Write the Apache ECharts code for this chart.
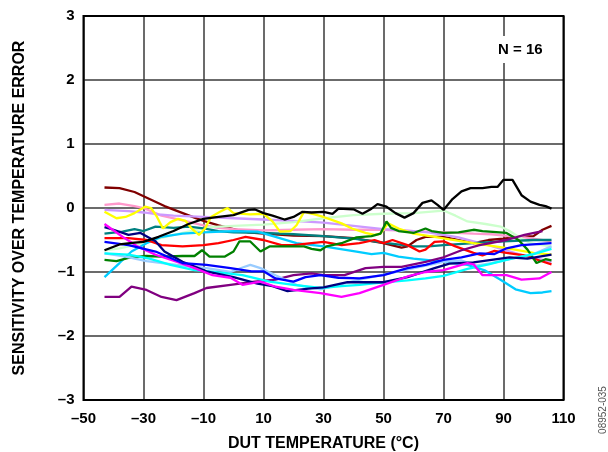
<!DOCTYPE html>
<html>
<head>
<meta charset="utf-8">
<script src="https://cdn.jsdelivr.net/npm/echarts@6/dist/echarts.min.js"></script>
<style>
html,body{margin:0;padding:0;background:#fff;}
#c{width:608px;height:452px;}
</style>
</head>
<body>
<div id="c"></div>
<script>
var xTickValues = [-50,-30,-10,10,30,50,70,90,110];
var yTickValues = [-3,-2,-1,0,1,2,3];
var xTitle = 'DUT TEMPERATURE (°C)';
var yTitle = 'SENSITIVITY OVER TEMPERATURE ERROR';
var noteText = 'N = 16';
var figId = '08952-035';

var maroon = [[-43,0.32],[-38,0.31],[-33,0.25],[-28,0.14],[-23,0.03],[-18,-0.06],[-13,-0.15],[-10,-0.2],[-5,-0.27],[0,-0.33],[5,-0.38],[10,-0.4],[20,-0.43],[30,-0.44],[40,-0.47],[50,-0.55],[56,-0.62],[58,-0.6],[61,-0.5],[64,-0.45],[70,-0.45],[75,-0.5],[80,-0.55],[85,-0.5],[90,-0.48],[95,-0.45],[100,-0.44],[103,-0.34],[106,-0.28]];
var pink = [[-43,0.05],[-38,0.07],[-33,0.03],[-30,0.0],[-24,-0.12],[-18,-0.18],[-10,-0.27],[-5,-0.31],[0,-0.33],[10,-0.35],[20,-0.34],[30,-0.33],[40,-0.34],[50,-0.34],[60,-0.36],[70,-0.38],[80,-0.4],[86,-0.41],[92,-0.44],[97,-0.46],[106,-0.52]];
var lavender = [[-43,-0.03],[-35,-0.05],[-30,-0.07],[-25,-0.1],[-20,-0.12],[-10,-0.14],[0,-0.16],[10,-0.18],[20,-0.2],[30,-0.23],[40,-0.28],[50,-0.33],[60,-0.36],[65,-0.38],[70,-0.42],[75,-0.46],[80,-0.52],[85,-0.58],[90,-0.65],[95,-0.72],[100,-0.78],[106,-0.84]];
var yellow = [[-43,-0.06],[-39,-0.16],[-36,-0.14],[-33,-0.08],[-29.5,0.02],[-27.5,0.0],[-25.5,-0.14],[-23.5,-0.32],[-21,-0.22],[-18.5,-0.17],[-16,-0.2],[-14,-0.32],[-11.5,-0.42],[-9.5,-0.32],[-7.5,-0.14],[-4.5,-0.06],[-2,0.0],[0,-0.08],[5.5,-0.1],[10,-0.09],[13,-0.21],[15.5,-0.37],[19,-0.36],[21,-0.27],[23.5,-0.06],[27,-0.1],[30,-0.14],[33,-0.19],[36,-0.24],[39.5,-0.32],[44,-0.39],[47,-0.42],[49,-0.4],[51.5,-0.24],[55,-0.32],[60,-0.4],[67,-0.45],[72,-0.49],[80,-0.55],[90,-0.62],[100,-0.7],[106,-0.73]];
var teal = [[-43,-0.4],[-37,-0.37],[-33,-0.33],[-30,-0.36],[-26,-0.29],[-20,-0.31],[-15,-0.29],[-10,-0.32],[-5,-0.36],[0,-0.38],[10,-0.39],[20,-0.41],[30,-0.44],[40,-0.48],[50,-0.54],[60,-0.6],[65,-0.6],[70,-0.58],[80,-0.55],[90,-0.52],[100,-0.5],[106,-0.5]];
var red = [[-43,-0.47],[-35,-0.47],[-29,-0.5],[-24,-0.58],[-17,-0.6],[-10,-0.58],[-5,-0.55],[0,-0.5],[4,-0.45],[10,-0.5],[16,-0.58],[20,-0.58],[26,-0.55],[30,-0.53],[36,-0.58],[42,-0.55],[47,-0.5],[50,-0.55],[53,-0.5],[58,-0.58],[62,-0.68],[64,-0.65],[67,-0.53],[70,-0.52],[74,-0.6],[80,-0.7],[83,-0.74],[87,-0.67],[91,-0.7],[97,-0.74],[102,-0.82],[106,-0.88]];
var green = [[-43,-0.81],[-39,-0.83],[-35,-0.78],[-29,-0.75],[-24,-0.76],[-17,-0.75],[-13,-0.75],[-10.5,-0.66],[-8,-0.76],[-3,-0.76],[0,-0.68],[2,-0.52],[5.5,-0.52],[9,-0.68],[12,-0.6],[19,-0.6],[23.5,-0.6],[26,-0.64],[29,-0.66],[31,-0.6],[36,-0.55],[41,-0.46],[46,-0.44],[49,-0.4],[51,-0.21],[52.5,-0.31],[55,-0.36],[60,-0.39],[64,-0.32],[66,-0.36],[70,-0.39],[75,-0.38],[80,-0.34],[83,-0.36],[91,-0.39],[95,-0.5],[98,-0.65],[101,-0.86],[104,-0.8],[106,-0.82]];
var lightgreen = [[-43,-0.66],[-38,-0.63],[-30,-0.55],[-25,-0.48],[-20,-0.42],[-13,-0.35],[-8,-0.3],[0,-0.28],[10,-0.26],[20,-0.22],[30,-0.16],[40,-0.11],[50,-0.09],[60,-0.08],[70,-0.04],[74,-0.12],[78,-0.21],[84,-0.25],[89,-0.29],[92,-0.36],[95,-0.45],[99,-0.55],[103,-0.58],[106,-0.6]];
var deepsky = [[-43,-1.08],[-38,-0.86],[-34,-0.68],[-29,-0.55],[-24,-0.45],[-17,-0.4],[-10,-0.38],[0,-0.36],[8,-0.37],[14,-0.45],[21,-0.55],[30,-0.6],[41,-0.68],[46,-0.72],[50,-0.7],[55,-0.76],[60,-0.79],[70,-0.84],[78,-0.89],[84,-0.98],[89,-1.12],[94,-1.27],[99,-1.33],[103,-1.32],[106,-1.3]];
var cyan = [[-43,-0.71],[-35,-0.73],[-28,-0.79],[-21,-0.89],[-13,-0.97],[-8,-0.99],[3,-1.05],[12,-1.15],[20,-1.2],[29,-1.25],[36,-1.22],[42,-1.2],[50,-1.16],[58,-1.13],[64,-1.1],[70,-1.06],[78,-0.95],[85,-0.88],[92,-0.8],[100,-0.72],[106,-0.64]];
var lightblue = [[-43,-0.71],[-36,-0.76],[-29,-0.83],[-19,-0.89],[-9,-0.94],[-1,-1.0],[3,-0.93],[5.6,-0.89],[9,-0.94],[14,-1.05],[21,-1.2],[29,-1.27],[35,-1.2],[42,-1.12],[50,-1.04],[57,-0.97],[64,-0.9],[70,-0.84],[76,-0.82],[81,-0.9],[86,-0.86],[92,-0.8],[100,-0.72],[106,-0.6]];
var navy = [[-43,-0.3],[-40,-0.34],[-35,-0.42],[-31,-0.39],[-26,-0.52],[-23,-0.68],[-17,-0.84],[-9,-0.99],[0,-1.08],[8,-1.18],[13,-1.22],[18,-1.3],[25,-1.26],[30,-1.24],[38,-1.16],[50,-1.16],[58,-1.08],[67,-0.94],[72,-0.87],[80,-0.85],[86,-0.81],[92,-0.77],[98,-0.79],[106,-0.73]];
var magenta = [[-43,-0.25],[-37,-0.45],[-32,-0.6],[-26,-0.73],[-19,-0.84],[-13,-0.94],[-7,-1.05],[-1,-1.09],[3,-1.2],[9,-1.15],[14,-1.23],[20,-1.28],[29,-1.33],[36,-1.39],[42,-1.33],[50,-1.2],[58,-1.07],[64,-1.0],[70,-0.97],[78,-0.86],[80,-0.88],[83,-1.05],[91,-1.05],[96,-1.12],[102,-1.1],[106,-1.0]];
var blue = [[-43,-0.53],[-35,-0.58],[-26,-0.68],[-17,-0.86],[-9,-0.89],[-1,-0.94],[6,-0.99],[10,-0.99],[14,-1.1],[20,-1.15],[24,-1.08],[29,-1.05],[35,-1.09],[42,-1.1],[50,-1.05],[58,-0.94],[64,-0.89],[70,-0.81],[76,-0.77],[82,-0.71],[87,-0.72],[91,-0.63],[96,-0.58],[106,-0.55]];
var purple = [[-43,-1.39],[-38,-1.39],[-34,-1.23],[-29,-1.28],[-24,-1.39],[-19,-1.44],[-13,-1.33],[-9,-1.25],[-1,-1.2],[7,-1.15],[14,-1.12],[20,-1.05],[26,-1.02],[30,-1.05],[37,-1.05],[44,-0.94],[50,-0.92],[56,-0.92],[64,-0.84],[70,-0.77],[76,-0.66],[82,-0.58],[91,-0.5],[97,-0.42],[103,-0.36]];
var black = [[-43,-0.66],[-38,-0.57],[-33,-0.54],[-30,-0.53],[-25,-0.45],[-20,-0.36],[-15,-0.25],[-10,-0.17],[-5,-0.14],[0,-0.11],[5,-0.03],[7,-0.02],[10,-0.08],[13,-0.12],[17,-0.18],[20,-0.14],[23,-0.06],[26,-0.07],[30,-0.06],[33,-0.09],[35,-0.01],[40,-0.02],[43,-0.09],[46,-0.01],[48,0.06],[51,0.02],[54,-0.08],[57,-0.15],[60,-0.08],[63,0.08],[66,0.12],[68,0.05],[70,-0.03],[73,0.14],[76,0.26],[79,0.31],[83,0.31],[86,0.33],[88,0.33],[90,0.44],[93,0.44],[96,0.2],[99,0.1],[102,0.05],[104,0.03],[106,-0.01]];

var seriesList = [
  ['maroon', maroon, '#800000'],
  ['pink', pink, '#ff99cc'],
  ['lavender', lavender, '#cc99ff'],
  ['lightgreen', lightgreen, '#ccffcc'],
  ['teal', teal, '#008080'],
  ['deepsky', deepsky, '#00ccff'],
  ['yellow', yellow, '#ffff00'],
  ['red', red, '#ff0000'],
  ['green', green, '#008000'],
  ['purple', purple, '#800080'],
  ['lightblue', lightblue, '#99ccff'],
  ['cyan', cyan, '#00ffff'],
  ['navy', navy, '#000080'],
  ['magenta', magenta, '#ff00ff'],
  ['blue', blue, '#0000ff'],
  ['black', black, '#000000']
];

function fmt(v){ return v < 0 ? '\u2013' + Math.abs(v) : String(v); }

var FONT = '"Liberation Sans", Arial, Helvetica, sans-serif';
var chart = echarts.init(document.getElementById('c'), null, {renderer:'canvas'});
chart.setOption({
  animation: false,
  backgroundColor: '#ffffff',
  grid: {left: 83.5, right: 44.5, top: 16, bottom: 52, show: true, borderColor: '#000', borderWidth: 2, backgroundColor: 'transparent', z: 10, containLabel: false, outerBoundsMode: 'none'},
  xAxis: {
    type: 'value', min: xTickValues[0], max: xTickValues[xTickValues.length-1], interval: 20,
    name: xTitle, nameLocation: 'middle', nameGap: 36,
    nameTextStyle: {fontFamily: FONT, fontWeight: 'bold', fontSize: 16, color: '#000'},
    axisLine: {show: false}, axisTick: {show: false},
    axisLabel: {formatter: fmt, fontFamily: FONT, fontWeight: 'bold', fontSize: 15, color: '#000', margin: 11},
    splitLine: {show: true, lineStyle: {color: '#3a3a3a', width: 1.5}}
  },
  yAxis: {
    type: 'value', min: yTickValues[0], max: yTickValues[yTickValues.length-1], interval: 1,
    name: yTitle, nameLocation: 'middle', nameGap: 56, nameRotate: 90,
    nameTextStyle: {fontFamily: FONT, fontWeight: 'bold', fontSize: 16, color: '#000'},
    axisLine: {show: false}, axisTick: {show: false},
    axisLabel: {formatter: fmt, fontFamily: FONT, fontWeight: 'bold', fontSize: 15, color: '#000', margin: 9},
    splitLine: {show: true, lineStyle: {color: '#3a3a3a', width: 1.5}}
  },
  graphic: [
    {type: 'text', left: 496, top: 36, z: 100,
     style: {text: noteText, font: 'bold 15px ' + FONT, fill: '#000', backgroundColor: '#fff', padding: [6, 2, 6, 2]}},
    {type: 'text', x: 603, y: 410, rotation: Math.PI/2, z: 100,
     style: {text: figId, font: '10px ' + FONT, fill: '#555', align: 'center', verticalAlign: 'middle'}}
  ],
  series: seriesList.map(function(s){
    return {name: s[0], type: 'line', data: s[1], showSymbol: false, symbol: 'none',
      lineStyle: {color: s[2], width: 2.3}, itemStyle: {color: s[2]}, z: 5};
  })
});
</script>
</body>
</html>
